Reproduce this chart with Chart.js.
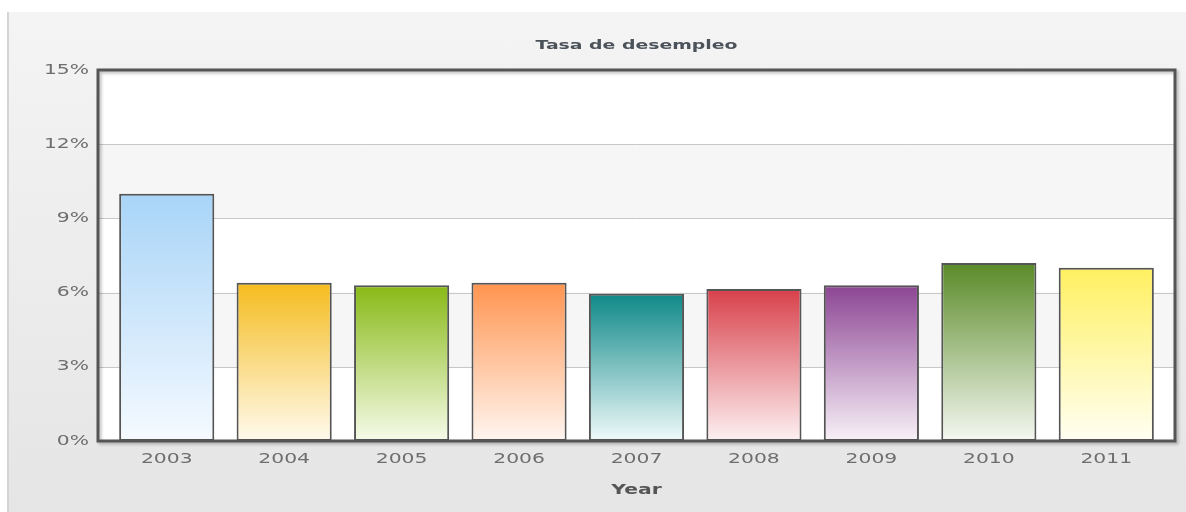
<!DOCTYPE html>
<html>
<head>
<meta charset="utf-8">
<script src="https://cdn.jsdelivr.net/npm/chart.js@4/dist/chart.umd.min.js"></script>
<style>
html, body { margin: 0; padding: 0; background: #fff; }
#panel { position: absolute; left: 7px; top: 12px; right: 0; bottom: 0;
         background: linear-gradient(#f4f4f4, #e5e5e5); border-left: 2px solid #d4d4d4; }
#wrap { position: absolute; left: 0; top: 0; width: 1186px; height: 512px; }
</style>
</head>
<body>
<div id="panel"></div>
<div id="wrap"><canvas id="grafico"></canvas></div>
<script>
const anios = ['2003', '2004', '2005', '2006', '2007', '2008', '2009', '2010', '2011'];
const tasas = [10.0, 6.4, 6.3, 6.4, 5.95, 6.15, 6.3, 7.2, 7.0];
const coloresArriba = ['#a8d4f7', '#f5bc1e', '#88b916', '#ff944f', '#0e8888', '#d8404a', '#8c4593', '#5a8a28', '#fff060'];
const coloresAbajo = ['#f5faff', '#fffaee', '#f6fbe9', '#fff6f1', '#f0fafa', '#fdf1f2', '#f8f1f8', '#f5f8f2', '#fffff3'];
const marcasY = [0, 3, 6, 9, 12, 15];

const FUENTE = 'DejaVu Sans';
const ESTIRAMIENTO = 1.45;  // el texto del original sale ensanchado

// relleno degradado de cada barra, desde su tope hasta el cero
function degradado(context) {
    const chart = context.chart;
    const i = context.dataIndex;
    if (!chart.chartArea || !chart.scales.y) return coloresArriba[i];
    const y = chart.scales.y;
    const g = chart.ctx.createLinearGradient(0, y.getPixelForValue(tasas[i]), 0, y.getPixelForValue(0));
    g.addColorStop(0, coloresArriba[i]);
    g.addColorStop(1, coloresAbajo[i]);
    return g;
}

// ensancha los textos en horizontal sin mover su punto de anclaje
const textoAncho = {
    id: 'textoAncho',
    beforeInit(chart) {
        const ctx = chart.ctx;
        const original = ctx.fillText.bind(ctx);
        ctx.fillText = function (texto, x, y, maxWidth) {
            ctx.save();
            ctx.translate(x, y);
            ctx.scale(ESTIRAMIENTO, 1);
            if (maxWidth === undefined) original(texto, 0, 0);
            else original(texto, 0, 0, maxWidth / ESTIRAMIENTO);
            ctx.restore();
        };
    }
};

const fondo = {
    id: 'fondo',
    beforeDatasetsDraw(chart) {
        const { ctx, chartArea: a, scales: { y } } = chart;
        const izq = a.left - 10, der = a.right + 10;
        ctx.save();
        for (let i = 0; i < marcasY.length - 1; i++) {
            const y0 = y.getPixelForValue(marcasY[i]);
            const y1 = y.getPixelForValue(marcasY[i + 1]);
            ctx.fillStyle = i % 2 === 1 ? '#f6f6f6' : '#ffffff';
            ctx.fillRect(izq, y1, der - izq, y0 - y1);
        }
        ctx.strokeStyle = '#c8c8c8';
        ctx.lineWidth = 1;
        marcasY.slice(1, -1).forEach(v => {
            const py = Math.round(y.getPixelForValue(v)) + 0.5;
            ctx.beginPath();
            ctx.moveTo(izq, py);
            ctx.lineTo(der, py);
            ctx.stroke();
        });
        ctx.restore();
    },
    afterDatasetsDraw(chart) {
        const { ctx, chartArea: a } = chart;
        ctx.save();
        ctx.shadowColor = 'rgba(0,0,0,0.25)';
        ctx.shadowOffsetX = 2;
        ctx.shadowOffsetY = 2;
        ctx.shadowBlur = 3;
        ctx.strokeStyle = '#555';
        ctx.lineWidth = 3;
        ctx.strokeRect(a.left - 10, a.top, a.right - a.left + 20, a.bottom - a.top);
        ctx.restore();
    }
};

new Chart(document.getElementById('grafico'), {
    type: 'bar',
    data: {
        labels: anios,
        datasets: [{
            label: 'Tasa de desempleo',
            data: tasas,
            backgroundColor: degradado,
            borderColor: '#555',
            borderWidth: 2,
            borderSkipped: false,
            categoryPercentage: 1,
            barPercentage: 0.81
        }]
    },
    options: {
        responsive: true,
        maintainAspectRatio: false,
        animation: false,
        layout: { padding: { right: 21, top: 0, bottom: 0, left: 0 } },
        plugins: {
            legend: { display: false },
            tooltip: { enabled: false },
            title: {
                display: true,
                text: 'Tasa de desempleo',
                fullSize: false,
                color: '#4b525a',
                font: { family: FUENTE, size: 13, weight: 'bold' },
                padding: { top: 37.4, bottom: 17 }
            }
        },
        scales: {
            x: {
                grid: { display: false, drawTicks: false },
                border: { display: false },
                ticks: { color: '#6e6e6e', font: { family: FUENTE, size: 14 }, padding: 10 },
                title: {
                    display: true,
                    text: 'Year',
                    color: '#555',
                    font: { family: FUENTE, size: 14, weight: 'bold' },
                    padding: { top: 4, bottom: 13.6 }
                },
                afterFit(s) { s.height = 71; }
            },
            y: {
                min: 0,
                max: 15,
                grid: { display: false, drawTicks: false },
                border: { display: false },
                ticks: {
                    stepSize: 3,
                    color: '#6e6e6e',
                    font: { family: FUENTE, size: 14 },
                    padding: 19,
                    callback: v => v + '%'
                },
                afterFit(s) { s.width = 108; }
            }
        }
    },
    plugins: [textoAncho, fondo]
});
</script>
</body>
</html>
